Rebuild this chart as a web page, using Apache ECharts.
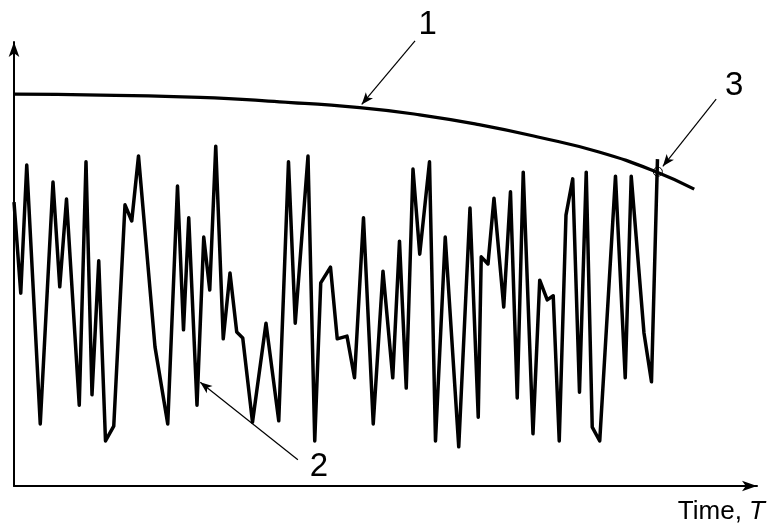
<!DOCTYPE html>
<html><head><meta charset="utf-8">
<script src="https://cdn.jsdelivr.net/npm/echarts@6/dist/echarts.min.js"></script>
<style>html,body{margin:0;padding:0;background:#fff}#c{width:768px;height:526px}</style>
</head><body><div id="c"></div>
<script>
// Curve 1 (smooth decreasing limit)
const curveTime = [0, 11.5, 24.8, 35.4, 46.1, 54.1, 62.0, 70.0, 78.0, 85.6, 90.7];
const curveValue = [87.9, 87.7, 87.2, 86.2, 84.9, 83.3, 81.1, 78.3, 75.0, 70.6, 66.7];

// Curve 2 (fluctuating signal)
const signalTime = [0,0.9,1.7,3.5,5.2,6.1,7.0,8.7,9.6,10.4,11.3,12.2,13.3,14.8,15.7,16.6,18.8,20.5,21.8,22.6,23.3,24.4,25.3,26.1,26.9,27.9,28.8,29.7,30.5,31.8,33.6,35.3,36.6,37.5,39.2,40.1,40.9,42.2,43.1,44.4,45.4,46.6,47.9,49.2,50.5,51.4,52.3,53.2,54.1,55.4,56.2,57.5,59.3,60.8,61.9,62.3,63.2,64.0,65.3,66.2,67.1,67.9,69.2,70.1,71.1,71.9,72.7,73.6,74.5,75.4,76.3,77.1,78.1,80.2,81.5,82.3,84.0,85.0,85.8];
const signalValue = [63.8,43.5,72.1,14.3,68.3,44.9,64.5,18.5,72.8,20.8,50.7,10.5,13.8,63.2,59.6,74.1,31.5,14.3,67.4,35.3,60.3,18.5,56.0,44.2,76.3,33.3,48.0,34.8,33.5,14.7,36.8,15.0,72.8,36.8,74.1,10.5,45.8,49.3,33.3,33.9,24.6,60.3,14.3,48.4,24.6,55.1,22.3,71.2,52.2,72.8,10.5,56.0,9.2,62.5,15.8,51.6,50.0,64.7,40.4,66.1,20.1,70.5,12.1,46.4,42.0,42.9,10.5,60.9,69.0,21.4,70.5,13.6,10.5,69.6,24.6,69.6,34.6,23.7,73.4];

// Point 3 (intersection)
const crossPoint = [85.85, 70.6];

// Annotation labels and leader arrows
const labelNames = ['1', '2', '3'];
const labelPos = [[55.1, 103.3], [40.6, 4.8], [95.9, 89.8]];
const arrowFrom = [[53.4, 99.8], [37.8, 6.3], [93.5, 86.8]];
const arrowTo = [[46.3, 85.6], [24.8, 23.6], [86.4, 71.8]];

const FONT = "'Liberation Sans', Arial, Helvetica, sans-serif";
const chart = echarts.init(document.getElementById('c'), null, {renderer: 'canvas'});

const axisCommon = {
  type: 'value',
  axisLine: {show: true, onZero: false, symbol: ['none', 'arrow'], symbolSize: [8, 15],
    lineStyle: {color: '#000', width: 2}},
  axisTick: {show: false}, axisLabel: {show: false}, splitLine: {show: false}
};
const hiddenAxis = {type: 'value', show: false, axisLine: {show: false}, axisTick: {show: false},
  axisLabel: {show: false}, splitLine: {show: false}};

chart.setOption({
  animation: false,
  backgroundColor: '#fff',
  grid: [
    {left: 14, right: 10, top: 42, bottom: 40},
    {left: 14, right: 10, top: 0, bottom: 40}
  ],
  xAxis: [
    Object.assign({}, axisCommon, {
      gridIndex: 0, min: 0, max: 99.07,
      name: 'Time, {i|T}', nameLocation: 'end', nameGap: 8,
      nameTextStyle: {fontFamily: FONT, fontSize: 26, color: '#000', align: 'right', verticalAlign: 'top',
        padding: [13, 0, 0, 0], rich: {i: {fontFamily: FONT, fontSize: 26, fontStyle: 'italic', color: '#000'}}}
    }),
    Object.assign({}, hiddenAxis, {gridIndex: 1, min: 0, max: 99.07})
  ],
  yAxis: [
    Object.assign({}, axisCommon, {gridIndex: 0, min: 0.45, max: 99.55}),
    Object.assign({}, hiddenAxis, {gridIndex: 1, min: 0.45, max: 108.9})
  ],
  series: [
    {
      type: 'line', name: 'signal', clip: false,
      data: signalTime.map((t, i) => [t, signalValue[i]]),
      showSymbol: false, symbol: 'none',
      lineStyle: {color: '#000', width: 3.5, join: 'round'},
      z: 2
    },
    {
      type: 'line', name: 'limit', clip: false, smooth: true,
      data: curveTime.map((t, i) => [t, curveValue[i]]),
      showSymbol: false, symbol: 'none',
      lineStyle: {color: '#000', width: 3.2},
      z: 3,
      markPoint: {
        silent: true,
        data: [{coord: crossPoint, symbol: 'circle', symbolSize: 9,
                itemStyle: {color: 'rgba(0,0,0,0)', borderColor: '#000', borderWidth: 1},
                label: {show: false}}]
      }
    },
    {
      type: 'line', name: 'annotations', xAxisIndex: 1, yAxisIndex: 1, clip: false,
      data: [], showSymbol: false, symbol: 'none', z: 4,
      markPoint: {
        silent: true,
        data: labelNames.map((n, i) => ({
          name: n, coord: labelPos[i], symbol: 'circle', symbolSize: 0,
          label: {show: true, formatter: n, position: 'inside', fontFamily: FONT, fontSize: 33, color: '#000'}
        }))
      },
      markLine: {
        silent: true,
        symbol: ['none', 'arrow'], symbolSize: [7, 12],
        label: {show: false},
        lineStyle: {color: '#000', width: 1.2, type: 'solid'},
        data: arrowFrom.map((f, i) => [{coord: f}, {coord: arrowTo[i]}])
      }
    }
  ]
});
</script></body></html>
